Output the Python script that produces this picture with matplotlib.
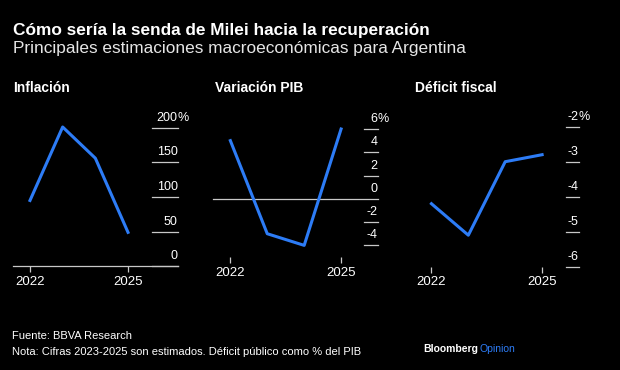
import matplotlib.pyplot as plt

plt.rcParams['font.family'] = ['Liberation Sans', 'DejaVu Sans']

# Data
years = [2022, 2023, 2024, 2025]
inflacion = [95, 201, 156, 49]
pib = [5.0, -3.0, -4.0, 6.0]
deficit = [-4.2, -5.1, -3.0, -2.8]

infl_ticks = [0, 50, 100, 150, 200]
pib_ticks = [-4, -2, 0, 2, 4, 6]
def_ticks = [-6, -5, -4, -3, -2]

W, H = 620, 370
BG = 'black'
BLUE = '#2d7cf6'
GREY = '#c8c8c8'

fig = plt.figure(figsize=(W / 100, H / 100), dpi=100, facecolor=BG)
top_labels = []


def px_axes(x0, x1, ytop, ybot):
    # axes placed in pixel coords (origin top-left)
    ax = fig.add_axes([x0 / W, 1 - ybot / H, (x1 - x0) / W, (ybot - ytop) / H])
    ax.set_facecolor('none')
    for s in ax.spines.values():
        s.set_visible(False)
    ax.set_yticks([])
    return ax


def panel(x0, x1, ytop, ybot, xl, yl, vals, ticks, tick_x0, zero=False, baseline=False):
    ax = px_axes(x0, x1, ytop, ybot)
    ax.set_xlim(*xl)
    ax.set_ylim(*yl)
    ax.plot(years, vals, color=BLUE, lw=2.2, zorder=3, clip_on=False)
    frac = (tick_x0 - x0) / (x1 - x0)
    trans = ax.get_yaxis_transform()
    for i, t in enumerate(ticks):
        if zero and t == 0:
            ax.axhline(t, color=GREY, lw=0.9, zorder=1, clip_on=False)
        else:
            ax.axhline(t, xmin=frac, xmax=1, color=GREY, lw=0.9, clip_on=False)
        lab = ax.annotate(f'{t:g}', (0.998, t), xycoords=trans, xytext=(0, 4),
                          textcoords='offset pixels', ha='right', va='bottom',
                          color='white', fontsize=9)
        if i == len(ticks) - 1:
            top_labels.append(lab)
    if baseline:
        ax.axhline(yl[0], color=GREY, lw=0.9, clip_on=False)
    # x ticks drawn as short marks under the plot
    ax.set_xticks([2022, 2025])
    ax.set_xticklabels(['2022', '2025'])
    ax.tick_params(axis='x', colors=GREY, length=4, width=0.9, pad=3,
                   labelcolor='white', labelsize=9.5)
    return ax


# Inflación
panel(13, 178, 127.7, 266.3, (2021.48, 2026.53), (0, 200), inflacion, infl_ticks,
      152, baseline=True)
# Variación PIB
panel(213, 378, 129, 257, (2021.53, 2026.0), (-5.0, 6.0), pib, pib_ticks,
      364, zero=True)
# Déficit fiscal
panel(413, 579, 126.7, 266.7, (2021.5, 2026.0), (-6, -2), deficit, def_ticks,
      566)

# Titles
fig.text(13 / W, 1 - 30 / H, 'Cómo sería la senda de Milei hacia la recuperación',
         color='white', fontsize=12.4, fontweight='bold', va='center', ha='left')
fig.text(13 / W, 1 - 48.5 / H, 'Principales estimaciones macroeconómicas para Argentina',
         color='#e6e6e6', fontsize=12.4, va='center', ha='left')

for x, t in [(13, 'Inflación'), (215, 'Variación PIB'), (415, 'Déficit fiscal')]:
    fig.text(x / W, 1 - 88 / H, t, color='white', fontsize=10, fontweight='bold',
             va='center', ha='left')

# Footer
fig.text(12 / W, 1 - 336 / H, 'Fuente: BBVA Research', color='white', fontsize=8,
         va='center', ha='left')
fig.text(12 / W, 1 - 352 / H, 'Nota: Cifras 2023-2025 son estimados. Déficit público como % del PIB',
         color='white', fontsize=8, va='center', ha='left')
t1 = fig.text(423 / W, 1 - 349 / H, 'Bloomberg', color='white', fontsize=7.5,
              fontweight='bold', va='center', ha='left')

fig.canvas.draw()
bb = t1.get_window_extent()
fig.text((bb.x1 + 2) / W, 1 - 349 / H, 'Opinion', color=BLUE, fontsize=7.5,
         va='center', ha='left')

# "%" hangs just after the top label of each axis
for lab in top_labels:
    e = lab.get_window_extent()
    fig.text(e.x1 / W, e.y0 / H, '%', color='white', fontsize=9,
             ha='left', va='bottom')

fig.savefig('out.png', dpi=100, facecolor=BG)
